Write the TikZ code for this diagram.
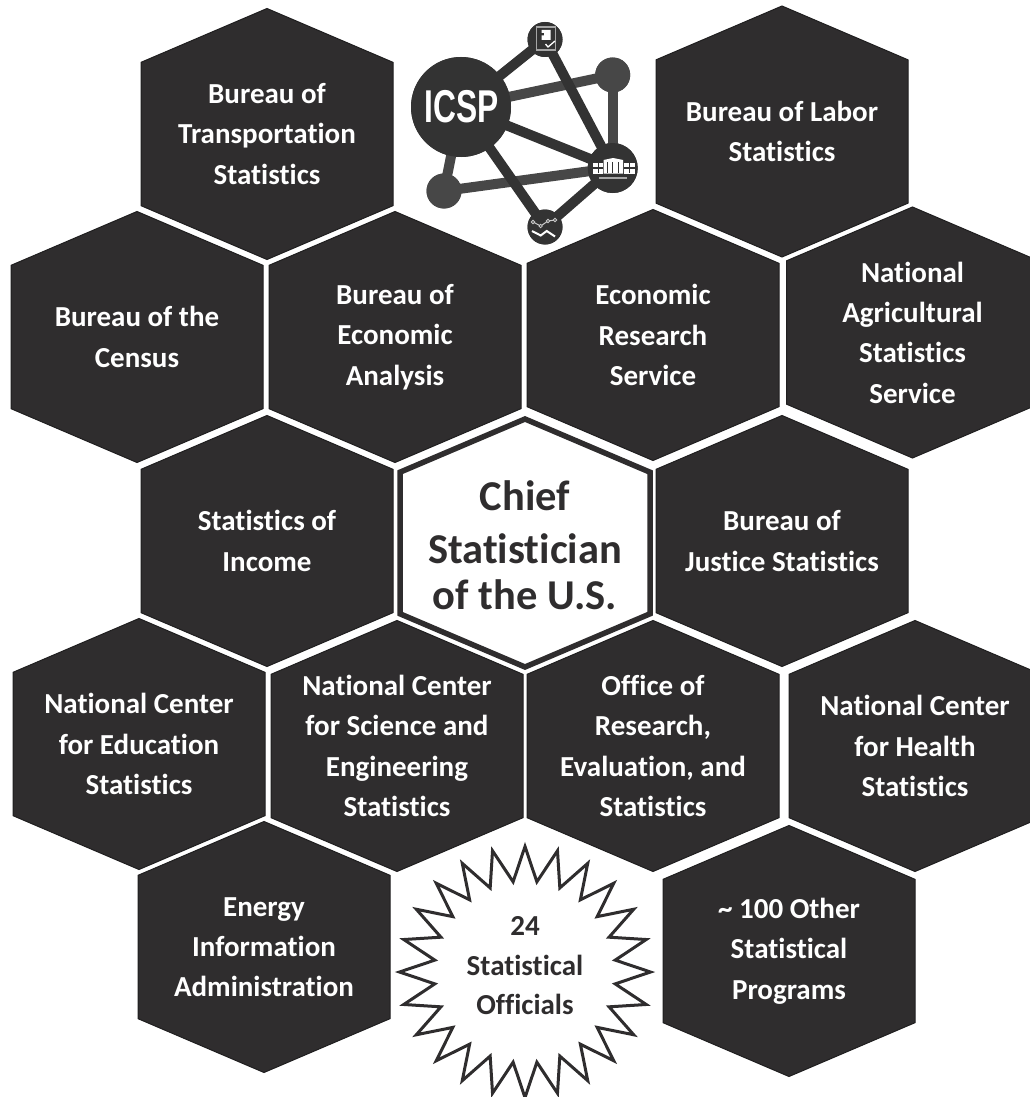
\documentclass[tikz,border=0pt]{standalone}
\usepackage{fontspec}
\setmainfont[Ligatures=NoCommon]{Carlito}
\newfontfamily\logofont{Liberation Sans}
\definecolor{hexdark}{HTML}{2F2D2E}
\definecolor{hexedge}{HTML}{1F1E1F}
\definecolor{logodark}{HTML}{333333}
\definecolor{logogray}{HTML}{474747}
\tikzset{
  hexfill/.style={fill=hexdark,draw=hexedge,line width=1pt,line join=miter},
  hextext/.style={text=white,align=center,inner sep=0pt,font=\fontsize{29}{40.3}\selectfont\bfseries},
  chiefhex/.style={fill=white,draw=hexdark,line width=5.5pt,line join=miter},
  chieftext/.style={text=hexdark,align=center,inner sep=0pt,font=\fontsize{42.5}{50}\selectfont\bfseries},
  startext/.style={text=hexdark,align=center,inner sep=0pt,font=\fontsize{29}{39.5}\selectfont\bfseries},
  starline/.style={fill=white,draw=hexdark,line width=3pt,line join=miter,miter limit=10},
  logodisc/.style={circle,fill=logodark,inner sep=0pt,minimum size=#1},
  logograydisc/.style={circle,fill=logogray,inner sep=0pt,minimum size=#1},
  darkedge/.style={draw=logodark,line width=10pt},
  grayedge/.style={draw=logogray,line width=10pt},
  iconwhite/.style={fill=white,draw=none},
  iconline/.style={draw=white,line width=1.3pt},
}
\newcommand{\hexpath}[4]{% cx cy hw hh
  (#1,#2-#4) -- (#1+#3,#2-#4*0.571) -- (#1+#3,#2+#4*0.571) -- (#1,#2+#4) -- (#1-#3,#2+#4*0.571) -- (#1-#3,#2-#4*0.571) -- cycle}
\newcommand{\hexa}[4]{%
  \path[hexfill] \hexpath{#1}{#2}{126}{125.5};
  \node[hextext] (#3) at (#1,#2) {#4};}
\begin{document}
\begin{tikzpicture}[x=1pt,y=-1pt]
\useasboundingbox (0,0) rectangle (1029,1097);
\hexa{267}{134}{bts}{Bureau of\\Transportation\\Statistics}
\hexa{782}{131.5}{bls}{Bureau of Labor\\Statistics}
\hexa{137}{337}{census}{Bureau of the\\Census}
\hexa{395}{337}{bea}{Bureau of\\Economic\\Analysis}
\hexa{653}{335}{ers}{Economic\\Research\\Service}
\hexa{912.5}{332.5}{nass}{National\\Agricultural\\Statistics\\Service}
\hexa{267}{541}{soi}{Statistics of\\Income}
\hexa{782}{541}{bjs}{Bureau of\\Justice Statistics}
\hexa{139}{744}{nces}{National Center\\for Education\\Statistics}
\hexa{397}{746}{ncses}{National Center\\for Science and\\Engineering\\Statistics}
\hexa{653}{746}{ores}{Office of\\Research,\\Evaluation, and\\Statistics}
\hexa{915}{746}{nchs}{National Center\\for Health\\Statistics}
\hexa{264}{947}{eia}{Energy\\Information\\Administration}
\hexa{789}{951}{other}{\textasciitilde{} 100 Other\\Statistical\\Programs}
% chief
\path[chiefhex] \hexpath{525}{543}{125}{124};
\node[chieftext] (chief) at (525,545) {Chief\\[3pt]Statistician\\[-4pt]of the U.S.};
% star
\draw[starline] plot[samples at={0,...,47},variable=\i] ({525+(mod(\i,2)==0?125.5:91)*sin(\i*7.5)},{972-(mod(\i,2)==0?125.5:91)*cos(\i*7.5)}) -- cycle;
\node[startext] (officials) at (525,966) {24\\Statistical\\Officials};
% logo nodes
\node[logodisc=100pt] (icsp) at (461,107) {};
\node[logodisc=35pt] (doc) at (545,39.5) {};
\node[logograydisc=35pt] (ur) at (612.7,75) {};
\node[logodisc=50pt] (bldg) at (612.7,168) {};
\node[logograydisc=35pt] (ll) at (444,191) {};
\node[logodisc=35pt] (chart) at (545,227) {};
\path[grayedge] (icsp.center) -- (ur.center);
\path[grayedge] (ur.center) -- (bldg.center);
\path[grayedge] (icsp.center) -- (ll.center);
\path[grayedge] (ll.center) -- (bldg.center);
\path[darkedge] (icsp.center) -- (doc.center);
\path[darkedge] (doc.center) -- (bldg.center);
\path[darkedge] (icsp.center) -- (bldg.center);
\path[darkedge] (icsp.center) -- (chart.center);
\path[darkedge] (bldg.center) -- (chart.center);
\fill[logodark] (icsp) circle (50);
\fill[logodark] (doc) circle (17.5);
\fill[logogray] (ur) circle (17.5);
\fill[logodark] (bldg) circle (25);
\fill[logogray] (ll) circle (17.5);
\fill[logodark] (chart) circle (17.5);
\node[text=white,inner sep=0pt] (icsplabel) at (461.5,107) {\scalebox{0.69}[1]{\fontsize{46}{46}\logofont\bfseries ICSP}};
% doc icon
\draw[draw=gray!70,line width=1.2pt] (536.5,27) rectangle (555.5,50);
\fill[iconwhite] (541.5,30) -- (550.5,30) -- (550.5,40) -- (541.5,40) -- (541.5,35.5) -- (544,35.5) -- (544,33) -- (541.5,33) -- cycle;
\draw[iconline] (545.5,44) -- (548,47) -- (555,41);
% building icon
\fill[iconwhite] (593,162.5) rectangle (603,173.5);
\fill[iconwhite] (603.5,160) -- (613,158) -- (623,160) -- (623,173.5) -- (603.5,173.5) -- cycle;
\fill[iconwhite] (624,162.5) rectangle (635,173.5);
\foreach \xa in {597.5,607,612,618,629}{\fill[logodark] (\xa,162) rectangle +(1.3,11);}
\foreach \ya in {167.3}{\fill[logodark] (593,\ya) rectangle (603,\ya+1.2); \fill[logodark] (624,\ya) rectangle (635,\ya+1.2);}
\fill[gray!70] (599,176.5) rectangle (627,178.5);
% chart icon
\draw[draw=gray!40,line width=1pt] (533,222) -- (540.7,226) -- (548,221) -- (555,220);
\foreach \xb/\yb in {533/222,540.7/226,548/221,555/220}{\filldraw[fill=logodark,draw=gray!40,line width=.8pt] (\xb,\yb) circle (1.7);}
\draw[draw=white,line width=2pt] (532,231) -- (540.7,235.5) -- (546.7,231) -- (555,236.5);
\end{tikzpicture}
\end{document}
